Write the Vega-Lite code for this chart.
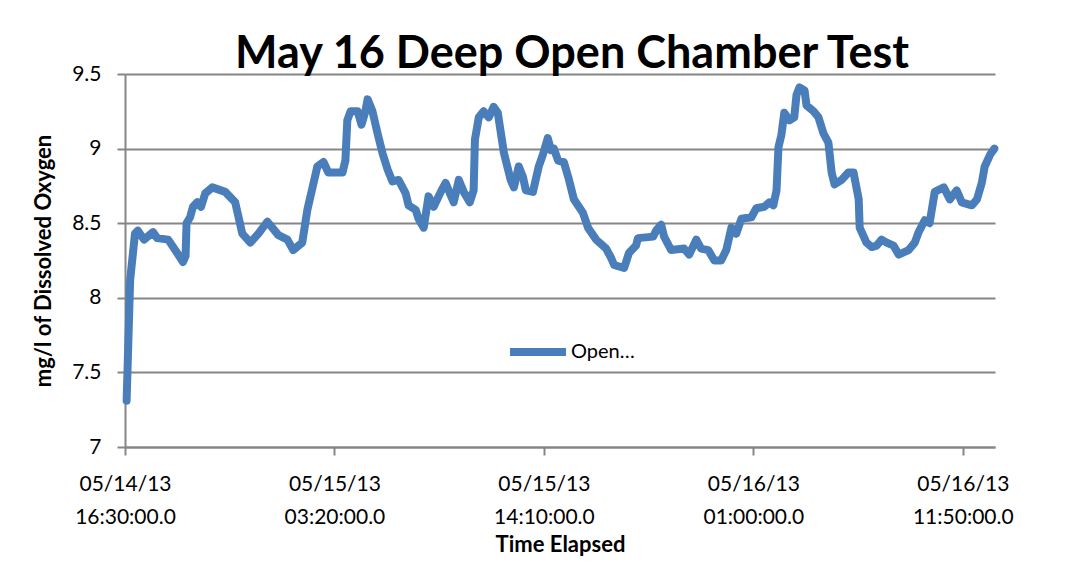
{
  "$schema": "https://vega.github.io/schema/vega-lite/v6.json",
  "width": 870,
  "height": 373,
  "autosize": {"type": "none"},
  "padding": {"left": 125, "top": 74, "right": 78, "bottom": 116},
  "background": "white",
  "title": {"text": "May 16 Deep Open Chamber Test", "font": "Lato", "fontSize": 45, "fontWeight": "bold", "color": "#000000", "anchor": "middle", "offset": -14, "dx": 12},
  "data": {"values": [
    {"elapsed_min": 5, "do_mg_l": 7.31},
    {"elapsed_min": 16, "do_mg_l": 8.12},
    {"elapsed_min": 31, "do_mg_l": 8.43},
    {"elapsed_min": 40, "do_mg_l": 8.45},
    {"elapsed_min": 59, "do_mg_l": 8.39},
    {"elapsed_min": 87, "do_mg_l": 8.44},
    {"elapsed_min": 100, "do_mg_l": 8.40},
    {"elapsed_min": 134, "do_mg_l": 8.39},
    {"elapsed_min": 162, "do_mg_l": 8.30},
    {"elapsed_min": 180, "do_mg_l": 8.24},
    {"elapsed_min": 188, "do_mg_l": 8.28},
    {"elapsed_min": 191, "do_mg_l": 8.50},
    {"elapsed_min": 202, "do_mg_l": 8.54},
    {"elapsed_min": 211, "do_mg_l": 8.61},
    {"elapsed_min": 224, "do_mg_l": 8.64},
    {"elapsed_min": 236, "do_mg_l": 8.61},
    {"elapsed_min": 249, "do_mg_l": 8.70},
    {"elapsed_min": 271, "do_mg_l": 8.74},
    {"elapsed_min": 311, "do_mg_l": 8.71},
    {"elapsed_min": 342, "do_mg_l": 8.64},
    {"elapsed_min": 364, "do_mg_l": 8.43},
    {"elapsed_min": 389, "do_mg_l": 8.37},
    {"elapsed_min": 414, "do_mg_l": 8.43},
    {"elapsed_min": 442, "do_mg_l": 8.51},
    {"elapsed_min": 476, "do_mg_l": 8.42},
    {"elapsed_min": 504, "do_mg_l": 8.39},
    {"elapsed_min": 522, "do_mg_l": 8.32},
    {"elapsed_min": 550, "do_mg_l": 8.37},
    {"elapsed_min": 566, "do_mg_l": 8.59},
    {"elapsed_min": 582, "do_mg_l": 8.74},
    {"elapsed_min": 597, "do_mg_l": 8.88},
    {"elapsed_min": 616, "do_mg_l": 8.91},
    {"elapsed_min": 631, "do_mg_l": 8.84},
    {"elapsed_min": 675, "do_mg_l": 8.84},
    {"elapsed_min": 684, "do_mg_l": 8.92},
    {"elapsed_min": 690, "do_mg_l": 9.19},
    {"elapsed_min": 700, "do_mg_l": 9.25},
    {"elapsed_min": 722, "do_mg_l": 9.25},
    {"elapsed_min": 734, "do_mg_l": 9.16},
    {"elapsed_min": 746, "do_mg_l": 9.25},
    {"elapsed_min": 753, "do_mg_l": 9.33},
    {"elapsed_min": 768, "do_mg_l": 9.25},
    {"elapsed_min": 784, "do_mg_l": 9.10},
    {"elapsed_min": 799, "do_mg_l": 8.97},
    {"elapsed_min": 815, "do_mg_l": 8.86},
    {"elapsed_min": 830, "do_mg_l": 8.78},
    {"elapsed_min": 849, "do_mg_l": 8.79},
    {"elapsed_min": 871, "do_mg_l": 8.70},
    {"elapsed_min": 880, "do_mg_l": 8.62},
    {"elapsed_min": 902, "do_mg_l": 8.59},
    {"elapsed_min": 911, "do_mg_l": 8.53},
    {"elapsed_min": 927, "do_mg_l": 8.47},
    {"elapsed_min": 942, "do_mg_l": 8.68},
    {"elapsed_min": 958, "do_mg_l": 8.61},
    {"elapsed_min": 980, "do_mg_l": 8.71},
    {"elapsed_min": 995, "do_mg_l": 8.77},
    {"elapsed_min": 1020, "do_mg_l": 8.64},
    {"elapsed_min": 1036, "do_mg_l": 8.79},
    {"elapsed_min": 1051, "do_mg_l": 8.71},
    {"elapsed_min": 1070, "do_mg_l": 8.64},
    {"elapsed_min": 1082, "do_mg_l": 8.72},
    {"elapsed_min": 1086, "do_mg_l": 9.06},
    {"elapsed_min": 1098, "do_mg_l": 9.21},
    {"elapsed_min": 1113, "do_mg_l": 9.25},
    {"elapsed_min": 1129, "do_mg_l": 9.21},
    {"elapsed_min": 1144, "do_mg_l": 9.28},
    {"elapsed_min": 1157, "do_mg_l": 9.24},
    {"elapsed_min": 1176, "do_mg_l": 8.97},
    {"elapsed_min": 1197, "do_mg_l": 8.79},
    {"elapsed_min": 1207, "do_mg_l": 8.74},
    {"elapsed_min": 1222, "do_mg_l": 8.88},
    {"elapsed_min": 1235, "do_mg_l": 8.81},
    {"elapsed_min": 1244, "do_mg_l": 8.72},
    {"elapsed_min": 1266, "do_mg_l": 8.71},
    {"elapsed_min": 1284, "do_mg_l": 8.88},
    {"elapsed_min": 1297, "do_mg_l": 8.96},
    {"elapsed_min": 1312, "do_mg_l": 9.07},
    {"elapsed_min": 1322, "do_mg_l": 8.99},
    {"elapsed_min": 1331, "do_mg_l": 9.00},
    {"elapsed_min": 1344, "do_mg_l": 8.92},
    {"elapsed_min": 1362, "do_mg_l": 8.91},
    {"elapsed_min": 1378, "do_mg_l": 8.79},
    {"elapsed_min": 1393, "do_mg_l": 8.66},
    {"elapsed_min": 1421, "do_mg_l": 8.57},
    {"elapsed_min": 1437, "do_mg_l": 8.47},
    {"elapsed_min": 1462, "do_mg_l": 8.39},
    {"elapsed_min": 1493, "do_mg_l": 8.33},
    {"elapsed_min": 1508, "do_mg_l": 8.27},
    {"elapsed_min": 1518, "do_mg_l": 8.22},
    {"elapsed_min": 1549, "do_mg_l": 8.20},
    {"elapsed_min": 1564, "do_mg_l": 8.30},
    {"elapsed_min": 1586, "do_mg_l": 8.35},
    {"elapsed_min": 1592, "do_mg_l": 8.40},
    {"elapsed_min": 1639, "do_mg_l": 8.41},
    {"elapsed_min": 1648, "do_mg_l": 8.45},
    {"elapsed_min": 1664, "do_mg_l": 8.49},
    {"elapsed_min": 1673, "do_mg_l": 8.41},
    {"elapsed_min": 1695, "do_mg_l": 8.32},
    {"elapsed_min": 1735, "do_mg_l": 8.33},
    {"elapsed_min": 1751, "do_mg_l": 8.29},
    {"elapsed_min": 1773, "do_mg_l": 8.39},
    {"elapsed_min": 1788, "do_mg_l": 8.33},
    {"elapsed_min": 1810, "do_mg_l": 8.32},
    {"elapsed_min": 1829, "do_mg_l": 8.25},
    {"elapsed_min": 1850, "do_mg_l": 8.25},
    {"elapsed_min": 1866, "do_mg_l": 8.32},
    {"elapsed_min": 1882, "do_mg_l": 8.47},
    {"elapsed_min": 1897, "do_mg_l": 8.43},
    {"elapsed_min": 1913, "do_mg_l": 8.53},
    {"elapsed_min": 1944, "do_mg_l": 8.54},
    {"elapsed_min": 1959, "do_mg_l": 8.60},
    {"elapsed_min": 1984, "do_mg_l": 8.61},
    {"elapsed_min": 2000, "do_mg_l": 8.64},
    {"elapsed_min": 2012, "do_mg_l": 8.62},
    {"elapsed_min": 2022, "do_mg_l": 8.72},
    {"elapsed_min": 2028, "do_mg_l": 9.01},
    {"elapsed_min": 2037, "do_mg_l": 9.09},
    {"elapsed_min": 2046, "do_mg_l": 9.24},
    {"elapsed_min": 2062, "do_mg_l": 9.19},
    {"elapsed_min": 2077, "do_mg_l": 9.21},
    {"elapsed_min": 2084, "do_mg_l": 9.36},
    {"elapsed_min": 2093, "do_mg_l": 9.41},
    {"elapsed_min": 2109, "do_mg_l": 9.39},
    {"elapsed_min": 2115, "do_mg_l": 9.29},
    {"elapsed_min": 2137, "do_mg_l": 9.25},
    {"elapsed_min": 2152, "do_mg_l": 9.21},
    {"elapsed_min": 2168, "do_mg_l": 9.10},
    {"elapsed_min": 2183, "do_mg_l": 9.04},
    {"elapsed_min": 2193, "do_mg_l": 8.84},
    {"elapsed_min": 2202, "do_mg_l": 8.76},
    {"elapsed_min": 2224, "do_mg_l": 8.79},
    {"elapsed_min": 2245, "do_mg_l": 8.84},
    {"elapsed_min": 2261, "do_mg_l": 8.84},
    {"elapsed_min": 2277, "do_mg_l": 8.66},
    {"elapsed_min": 2280, "do_mg_l": 8.47},
    {"elapsed_min": 2301, "do_mg_l": 8.37},
    {"elapsed_min": 2317, "do_mg_l": 8.34},
    {"elapsed_min": 2333, "do_mg_l": 8.35},
    {"elapsed_min": 2348, "do_mg_l": 8.39},
    {"elapsed_min": 2364, "do_mg_l": 8.37},
    {"elapsed_min": 2385, "do_mg_l": 8.35},
    {"elapsed_min": 2401, "do_mg_l": 8.29},
    {"elapsed_min": 2432, "do_mg_l": 8.32},
    {"elapsed_min": 2451, "do_mg_l": 8.37},
    {"elapsed_min": 2463, "do_mg_l": 8.44},
    {"elapsed_min": 2482, "do_mg_l": 8.52},
    {"elapsed_min": 2497, "do_mg_l": 8.50},
    {"elapsed_min": 2513, "do_mg_l": 8.71},
    {"elapsed_min": 2541, "do_mg_l": 8.74},
    {"elapsed_min": 2560, "do_mg_l": 8.66},
    {"elapsed_min": 2581, "do_mg_l": 8.72},
    {"elapsed_min": 2597, "do_mg_l": 8.64},
    {"elapsed_min": 2628, "do_mg_l": 8.62},
    {"elapsed_min": 2644, "do_mg_l": 8.66},
    {"elapsed_min": 2659, "do_mg_l": 8.77},
    {"elapsed_min": 2668, "do_mg_l": 8.88},
    {"elapsed_min": 2685, "do_mg_l": 8.96},
    {"elapsed_min": 2698, "do_mg_l": 9.00}
  ]},
  "mark": {"type": "line", "strokeWidth": 8, "strokeCap": "round", "strokeJoin": "round"},
  "encoding": {
    "x": {
      "field": "elapsed_min", "type": "quantitative",
      "scale": {"domain": [0, 2700], "nice": false, "zero": false},
      "axis": {
        "values": [0, 650, 1300, 1950, 2600],
        "labelExpr": "datum.value == 0 ? ['05/14/13', '16:30:00.0'] : datum.value == 650 ? ['05/15/13', '03:20:00.0'] : datum.value == 1300 ? ['05/15/13', '14:10:00.0'] : datum.value == 1950 ? ['05/16/13', '01:00:00.0'] : ['05/16/13', '11:50:00.0']",
        "title": "Time Elapsed",
        "grid": false,
        "labelFontSize": 21,
        "labelLineHeight": 33,
        "labelPadding": 18,
        "labelFlush": false,
        "labelOverlap": false,
        "tickSize": 8,
        "titlePadding": 7
      }
    },
    "y": {
      "field": "do_mg_l", "type": "quantitative",
      "scale": {"domain": [7, 9.5], "nice": false, "zero": false},
      "axis": {
        "values": [7, 7.5, 8, 8.5, 9, 9.5],
        "format": "~g",
        "title": "mg/l of Dissolved  Oxygen",
        "grid": true,
        "labelFontSize": 21,
        "labelPadding": 16,
        "tickSize": 8,
        "titlePadding": 16
      }
    },
    "color": {
      "datum": "Open Chamber",
      "type": "nominal",
      "scale": {"range": ["#4A7EBB"]},
      "legend": {
        "orient": "none", "legendX": 381, "legendY": 246,
        "title": null,
        "symbolType": "stroke", "symbolSize": 3136, "symbolStrokeWidth": 8,
        "labelExpr": "'Open…'", "labelFontSize": 20, "labelFont": "Lato", "labelColor": "#000000", "labelOffset": 1
      }
    }
  },
  "config": {
    "view": {"stroke": null},
    "axis": {
      "labelFont": "Lato", "titleFont": "Lato", "labelColor": "#000000", "titleColor": "#000000",
      "titleFontSize": 22, "titleFontWeight": "bold",
      "domainColor": "#868686", "domainWidth": 2, "tickColor": "#868686", "tickWidth": 2,
      "gridColor": "#868686", "gridWidth": 2, "gridOpacity": 1
    }
  }
}
